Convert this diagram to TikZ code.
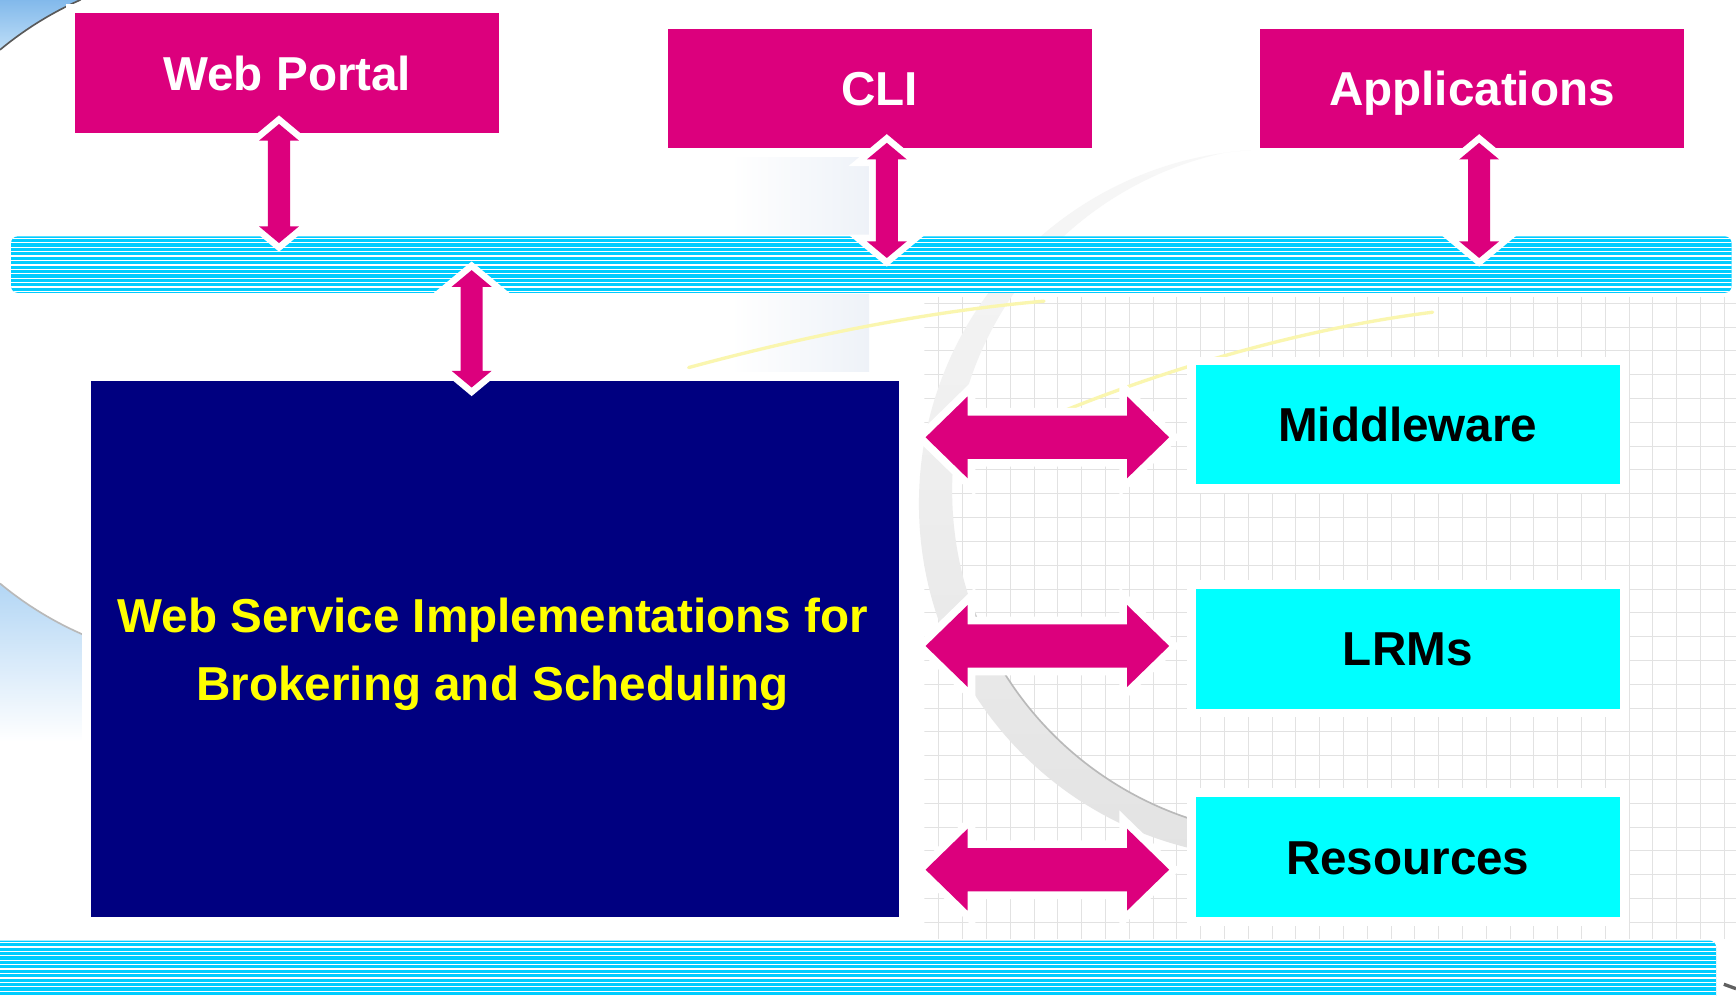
\documentclass[tikz,border=0pt]{standalone}
\usepackage{fontspec}
\setmainfont{Liberation Sans}
\usetikzlibrary{calc}
\definecolor{mag}{RGB}{220,0,125}
\definecolor{navybox}{RGB}{0,0,128}
\definecolor{cyanbox}{RGB}{0,255,255}
\definecolor{stripe}{RGB}{0,204,255}
\definecolor{txtyellow}{RGB}{255,255,0}
\definecolor{skyA}{RGB}{130,185,235}
\definecolor{skyB}{RGB}{190,222,247}
\definecolor{skyC}{RGB}{175,212,244}
\definecolor{gridgray}{RGB}{226,226,226}
\definecolor{faintyellow}{RGB}{250,246,175}
\definecolor{bgtint}{RGB}{238,242,248}
\newcommand\VDArrow[2]{%
  \path[varrow] let \p1=(#1), \p2=(#2) in
   (\x1,\y1) -- (\x1+18pt,\y1-15pt) -- (\x1+10pt,\y1-15pt) -- (\x1+10pt,\y2+15pt)
   -- (\x1+18pt,\y2+15pt) -- (\x1,\y2) -- (\x1-18pt,\y2+15pt) -- (\x1-10pt,\y2+15pt)
   -- (\x1-10pt,\y1-15pt) -- (\x1-18pt,\y1-15pt) -- cycle;}
\newcommand\HDArrow[2]{%
  \path[harrow] let \p1=(#1), \p2=(#2) in
   (\x1,\y1) -- (\x1+38pt,\y1+37pt) -- (\x1+38pt,\y1+19.5pt) -- (\x2-38pt,\y1+19.5pt)
   -- (\x2-38pt,\y1+37pt) -- (\x2,\y1) -- (\x2-38pt,\y1-37pt) -- (\x2-38pt,\y1-19.5pt)
   -- (\x1+38pt,\y1-19.5pt) -- (\x1+38pt,\y1-37pt) -- cycle;}
\begin{document}
\begin{tikzpicture}[x=1pt,y=-1pt,
  tbox/.style={inner sep=0pt, outer sep=0pt, font=\fontsize{43}{62}\selectfont\bfseries, align=center},
  halo/.style={preaction={draw=white, line width=16pt}},
  magbox/.style={tbox, halo, fill=mag, text=white, minimum width=383pt, minimum height=108pt, text height=31pt, text depth=0pt},
  cybox/.style={tbox, halo, fill=cyanbox, text=black, minimum width=383pt, minimum height=108pt, text height=31pt, text depth=0pt},
  bsbox/.style={tbox, halo, fill=navybox, minimum width=730pt, minimum height=484pt},
  stripebar/.style={fill=stripe, rounded corners=6pt, inner sep=0pt, outer sep=0pt,
    path picture={\foreach \k in {0,...,16}
      \draw[white, line width=1.1pt] ([yshift={-1.8pt-4pt*\k}]path picture bounding box.north west)
        -- ([yshift={-1.8pt-4pt*\k}]path picture bounding box.north east);}},
  varrow/.style={fill=mag, preaction={draw=white, line width=12pt, line join=miter, miter limit=10}},
  harrow/.style={fill=mag, preaction={draw=white, line width=14pt, line join=miter, miter limit=10}}
]
\useasboundingbox (0,0) rectangle (1568,899);
\fill[white] (0,0) rectangle (1568,899);

% ---------- background decoration ----------
% grid
\begin{scope}
  \clip (835,268) rectangle (1568,848);
  \foreach \gx in {0,...,34} \draw[gridgray, line width=0.9pt] ({848+21.5*\gx},268) -- ({848+21.5*\gx},848);
  \foreach \gy in {0,...,27} \draw[gridgray, line width=0.9pt] (835,{274+21.5*\gy}) -- (1568,{274+21.5*\gy});
\end{scope}
% light tint left of CLI
\shade[left color=white, right color=bgtint] (660,140) rectangle (785,212);
\shade[left color=white, right color=bgtint] (660,266) rectangle (785,338);
% grey crescent
\begin{scope}
  \clip (1150,455) circle[radius=320pt];
  \clip (0,0) rectangle (1150,899);
  \shade[even odd rule, top color=gray!6, middle color=gray!34, bottom color=gray!22]
    (1150,455) circle[radius=320pt] (1172,443) circle[radius=312pt];
\end{scope}
\draw[gray!55, line width=1.5pt] (878.8,549.7) arc[start angle=200, end angle=268, radius=312pt];
% faint yellow swooshes
\draw[faintyellow, line width=3pt, line cap=round] (622,332) .. controls (740,300) and (850,280) .. (943,272);
\draw[faintyellow, line width=3pt, line cap=round] (890,402) .. controls (1000,350) and (1150,300) .. (1294,282);
% blue globe parts at the left
\shade[top color=skyA, bottom color=skyB] (0,0) -- (0,45) arc[start angle=129.7, end angle=113.95, radius=313pt] -- cycle;
\draw[gray!70!black, line width=1.5pt] (0,45) arc[start angle=129.7, end angle=113.95, radius=313pt];
\begin{scope}
  \clip (0,527) arc[start angle=230.3, end angle=246.5, radius=313pt] -- (75,700) -- (0,700) -- cycle;
  \shade[top color=skyC, bottom color=white] (0,520) rectangle (75,670);
\end{scope}
\draw[gray!55, line width=1.5pt] (0,527) arc[start angle=230.3, end angle=246.5, radius=313pt];
\draw[gray!75!black, line width=3pt] (1557,889) -- (1568,893);

% ---------- boxes ----------
\node[magbox] (wp)  at (259.5,66)  {Web Portal};
\node[magbox] (cli) at (794.5,80)  {CLI};
\node[magbox] (app) at (1329.5,80) {Applications};

\node[bsbox] (bs) at (447,586) {};
\node[tbox, text=txtyellow] (bstext) at ($(bs.center)+(-2,5)$) {Web Service Implementations for\\Brokering and Scheduling};

\node[cybox, minimum height=107pt] (mw) at (1271.5,383.5) {Middleware};
\node[cybox] (lr) at (1271.5,586) {LRMs};
\node[cybox] (rs) at (1271.5,774) {Resources};

% ---------- striped bars ----------
\node[stripebar, minimum width=1554pt, minimum height=51pt] (topbar) at (787,239) {};
\node[stripebar, minimum width=1560pt, minimum height=62pt] (botbar) at (770,880.5) {};

% ---------- arrows ----------
\coordinate (wpT) at ($(wp.south)+(-7.5,-8)$);
\coordinate (wpB) at ($(wpT |- topbar.north)+(0,6)$);
\coordinate (cliT) at ($(cli.south)+(6.5,-5)$);
\coordinate (cliB) at ($(cliT |- topbar.center)+(0,-6)$);
\coordinate (appT) at ($(app.south)+(6.5,-5)$);
\coordinate (appB) at ($(appT |- topbar.center)+(0,-6)$);
\coordinate (bsB) at ($(bs.north)+(-21,6)$);
\coordinate (bsT) at ($(bsB |- topbar.center)+(0,5)$);
\VDArrow{wpT}{wpB}
\VDArrow{cliT}{cliB}
\VDArrow{appT}{appB}
\VDArrow{bsT}{bsB}

\coordinate (mwR) at ($(mw.west)+(-24,11.5)$);
\coordinate (mwL) at ($(bs.east |- mwR)+(24,0)$);
\coordinate (lrR) at ($(lr.west)+(-24,-2.5)$);
\coordinate (lrL) at ($(bs.east |- lrR)+(24,0)$);
\coordinate (rsR) at ($(rs.west)+(-24,11.5)$);
\coordinate (rsL) at ($(bs.east |- rsR)+(24,0)$);
\HDArrow{mwL}{mwR}
\HDArrow{lrL}{lrR}
\HDArrow{rsL}{rsR}
\end{tikzpicture}
\end{document}
